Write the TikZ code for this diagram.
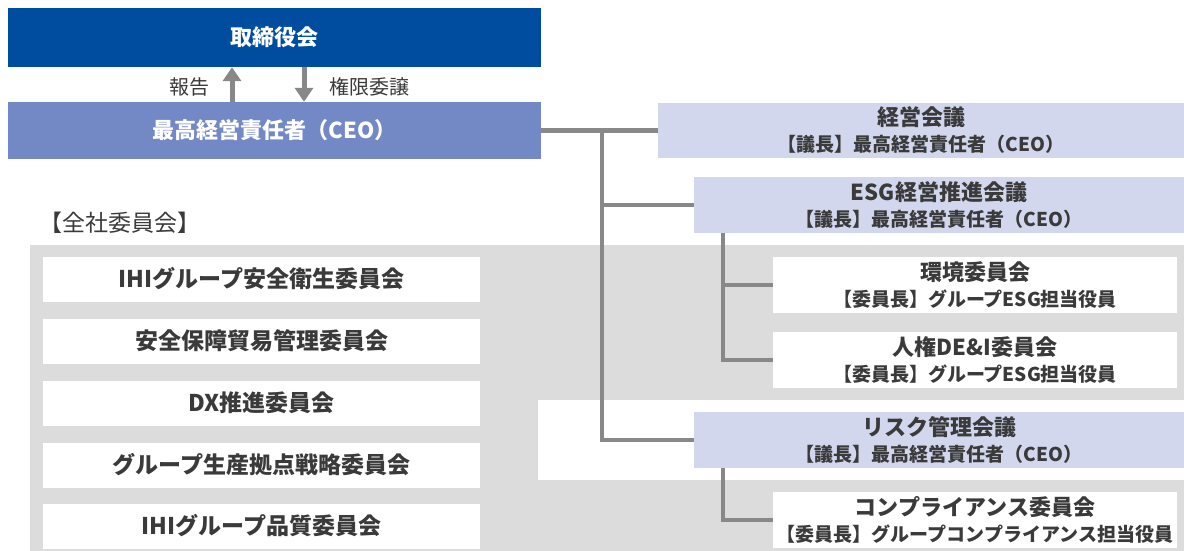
\documentclass[tikz,border=0pt]{standalone}
\usepackage{fontspec}
\setmainfont{Noto Sans CJK JP}
\usetikzlibrary{arrows.meta,positioning}

\definecolor{boardblue}{RGB}{0,77,160}
\definecolor{ceoblue}{RGB}{115,137,197}
\definecolor{lavender}{RGB}{210,215,238}
\definecolor{bggray}{RGB}{220,220,220}
\definecolor{linegray}{RGB}{136,136,136}
\definecolor{textgray}{RGB}{58,58,58}

\newcommand{\titlefont}{\bfseries\fontsize{22}{26}\selectfont}
\newcommand{\subfont}{\bfseries\fontsize{19}{26}\selectfont}

\tikzset{
    bluebox/.style={rectangle, inner sep=0pt, text=white, font=\titlefont},
    meeting/.style={rectangle, inner sep=0pt, fill=lavender, text=textgray, align=center, font=\subfont},
    committee/.style={rectangle, inner sep=0pt, fill=white, text=textgray, align=center, font=\subfont},
    company/.style={rectangle, inner sep=0pt, fill=white, text=textgray, font=\bfseries\fontsize{23}{26}\selectfont, minimum width=437, minimum height=45},
    conn/.style={draw=linegray, line width=4.5pt},
    branch/.style={to path={|- (\tikztotarget)}},
    flow/.style={draw=linegray, line width=5pt, -{Triangle[width=18pt,length=14pt]}},
    lbl/.style={text=textgray, font=\fontsize{20}{24}\selectfont}
}

\begin{document}
\begin{tikzpicture}[x=1pt, y=-1pt]
        \useasboundingbox (0,0) rectangle (1184,551);
        % committee background
        \fill[bggray] (30,245) rectangle (1184,551);
        \fill[white] (538,400) rectangle (1184,480);

        \node[bluebox, fill=boardblue, minimum width=533, minimum height=59] at (274.5, 37.5)(board){取締役会};
        \node[bluebox, fill=ceoblue, minimum width=533, minimum height=57] at (274.5, 130.5)(ceo){最高経営責任者（CEO）};
        \node[lbl] at (189, 87)(report){報告};
        \node[lbl] at (369, 87)(delegate){権限委譲};

        \node[meeting, minimum width=526, minimum height=55] at (921, 130.5)(keiei){{\titlefont 経営会議}\\【議長】最高経営責任者（CEO）};
        \node[meeting, minimum width=490, minimum height=56] at (939, 205)(esg){{\titlefont ESG経営推進会議}\\【議長】最高経営責任者（CEO）};
        \node[committee, minimum width=404, minimum height=56] at (975, 285)(kankyo){{\titlefont 環境委員会}\\【委員長】グループESG担当役員};
        \node[committee, minimum width=404, minimum height=56] at (975, 360)(jinken){{\titlefont 人権DE\&I委員会}\\【委員長】グループESG担当役員};
        \node[meeting, minimum width=490, minimum height=56] at (939, 440)(risk){{\titlefont リスク管理会議}\\【議長】最高経営責任者（CEO）};
        \node[committee, minimum width=404, minimum height=56] at (975, 520)(comp){{\titlefont コンプライアンス委員会}\\【委員長】グループコンプライアンス担当役員};

        \node[lbl, font=\fontsize{23}{26}\selectfont, anchor=west] at (36, 223)(zensha){【全社委員会】};
        \node[company] at (261.5, 279)(safety){IHIグループ安全衛生委員会};
        \node[company] at (261.5, 341)(trade){安全保障貿易管理委員会};
        \node[company] at (261.5, 403)(dx){DX推進委員会};
        \node[company] at (261.5, 465)(base){グループ生産拠点戦略委員会};
        \node[company] at (261.5, 526)(quality){IHIグループ品質委員会};

        \coordinate (trunk) at (602, 130.5);
        \coordinate (esgfoot) at (723, 233);
        \coordinate (riskfoot) at (723, 468);

        \draw[flow] ([xshift=-42.5pt]ceo.north) -- ([xshift=-42.5pt]board.south);
        \draw[flow] ([xshift=29.5pt]board.south) -- ([xshift=29.5pt]ceo.north);
        \path[conn]
            (ceo.east)edge(keiei.west)
            (trunk)edge[branch](esg.west)
            (trunk)edge[branch](risk.west)
            (esgfoot)edge[branch](kankyo.west)
            (esgfoot)edge[branch](jinken.west)
            (riskfoot)edge[branch](comp.west)
            ;
    \end{tikzpicture}
\end{document}
